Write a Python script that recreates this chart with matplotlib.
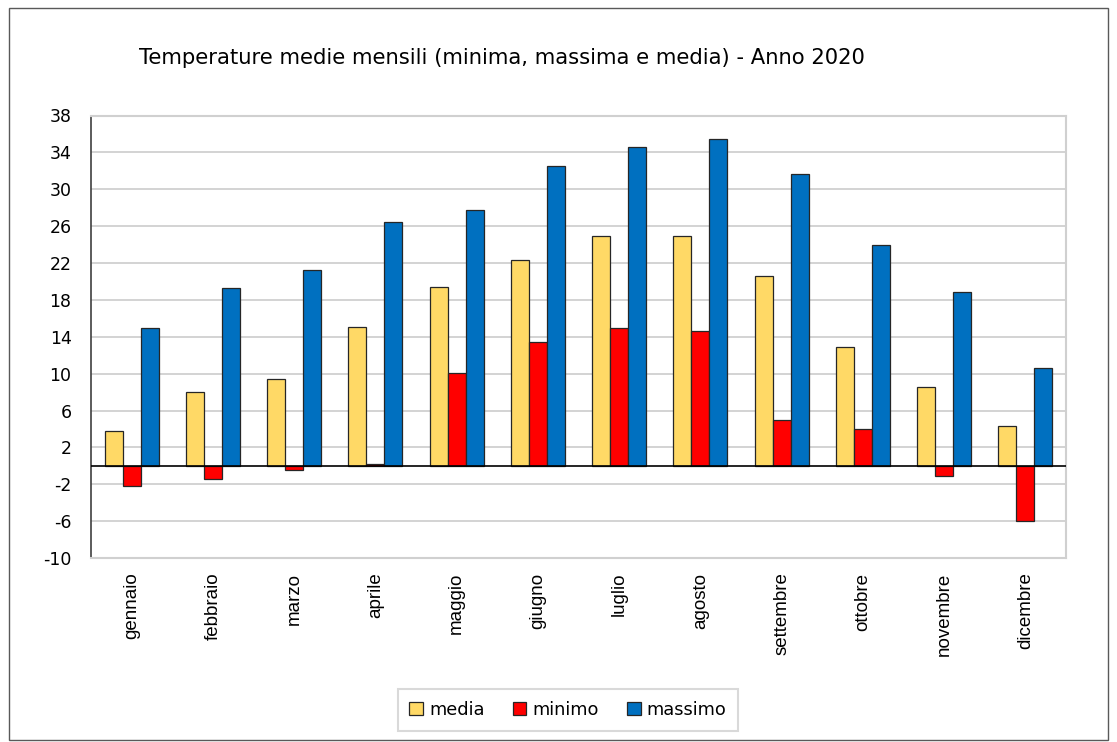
import matplotlib
matplotlib.use("Agg")
import matplotlib.pyplot as plt
from matplotlib.patches import Rectangle
import numpy as np

months = ["gennaio", "febbraio", "marzo", "aprile", "maggio", "giugno",
          "luglio", "agosto", "settembre", "ottobre", "novembre", "dicembre"]
media = [3.8, 8.0, 9.4, 15.1, 19.4, 22.3, 24.9, 24.9, 20.6, 12.9, 8.5, 4.3]
minimo = [-2.2, -1.4, -0.4, 0.2, 10.1, 13.4, 15.0, 14.6, 5.0, 4.0, -1.1, -6.0]
massimo = [15.0, 19.3, 21.2, 26.4, 27.8, 32.5, 34.6, 35.4, 31.7, 23.9, 18.9, 10.6]
yticks = list(range(-10, 39, 4))
title = "Temperature medie mensili (minima, massima e media) - Anno 2020"

W, H = 1117, 742
fig = plt.figure(figsize=(W / 100, H / 100), dpi=100)
fig.patch.set_facecolor("white")

# outer border
fig.add_artist(Rectangle((9 / W, 1 - 740 / H), (1108 - 9) / W, (740 - 8) / H,
                         transform=fig.transFigure, fill=False,
                         edgecolor="#595959", linewidth=1.0))

L, R, T, B = 91, 1066, 115.5, 558
ax = fig.add_axes([L / W, 1 - B / H, (R - L) / W, (B - T) / H])

x = np.arange(len(months))
bw = 0.222
edge = "#262626"
ax.bar(x - bw, media, bw, color="#FFD966", edgecolor=edge, linewidth=0.9, label="media", zorder=3)
ax.bar(x, minimo, bw, color="#FF0000", edgecolor=edge, linewidth=0.9, label="minimo", zorder=3)
ax.bar(x + bw, massimo, bw, color="#0070C0", edgecolor=edge, linewidth=0.9, label="massimo", zorder=3)

ax.set_xlim(-0.5, len(months) - 0.5)
ax.set_ylim(-10, 38)
ax.set_yticks(yticks)
ax.set_yticklabels([str(v) for v in yticks], fontsize=12.5)
ax.set_xticks(x)
ax.set_xticklabels(months, rotation=90, fontsize=13.5, family="Liberation Sans")
ax.tick_params(axis="x", length=0, pad=10.5)
ax.tick_params(axis="y", length=0, pad=14)
ax.grid(axis="y", color="#d0d0d0", linewidth=1.3, zorder=0)
ax.axhline(0, color="black", linewidth=1.2, zorder=4)

for s in ["top", "right", "bottom"]:
    ax.spines[s].set_color("#d0d0d0")
    ax.spines[s].set_linewidth(1.5)
ax.spines["left"].set_color("#404040")
ax.spines["left"].set_linewidth(1.2)

fig.text(502 / W, 1 - 58 / H, title, ha="center", va="center", fontsize=15.2)

leg = fig.legend(loc="center", bbox_to_anchor=(568 / W, 1 - 710 / H), ncol=3,
                 fontsize=12.8, frameon=True, fancybox=False, edgecolor="#d0d0d0",
                 handlelength=0.75, handleheight=0.75, handletextpad=0.35,
                 columnspacing=1.6, borderpad=0.65)
leg.get_frame().set_linewidth(1.5)

fig.savefig("out.png", dpi=100)
